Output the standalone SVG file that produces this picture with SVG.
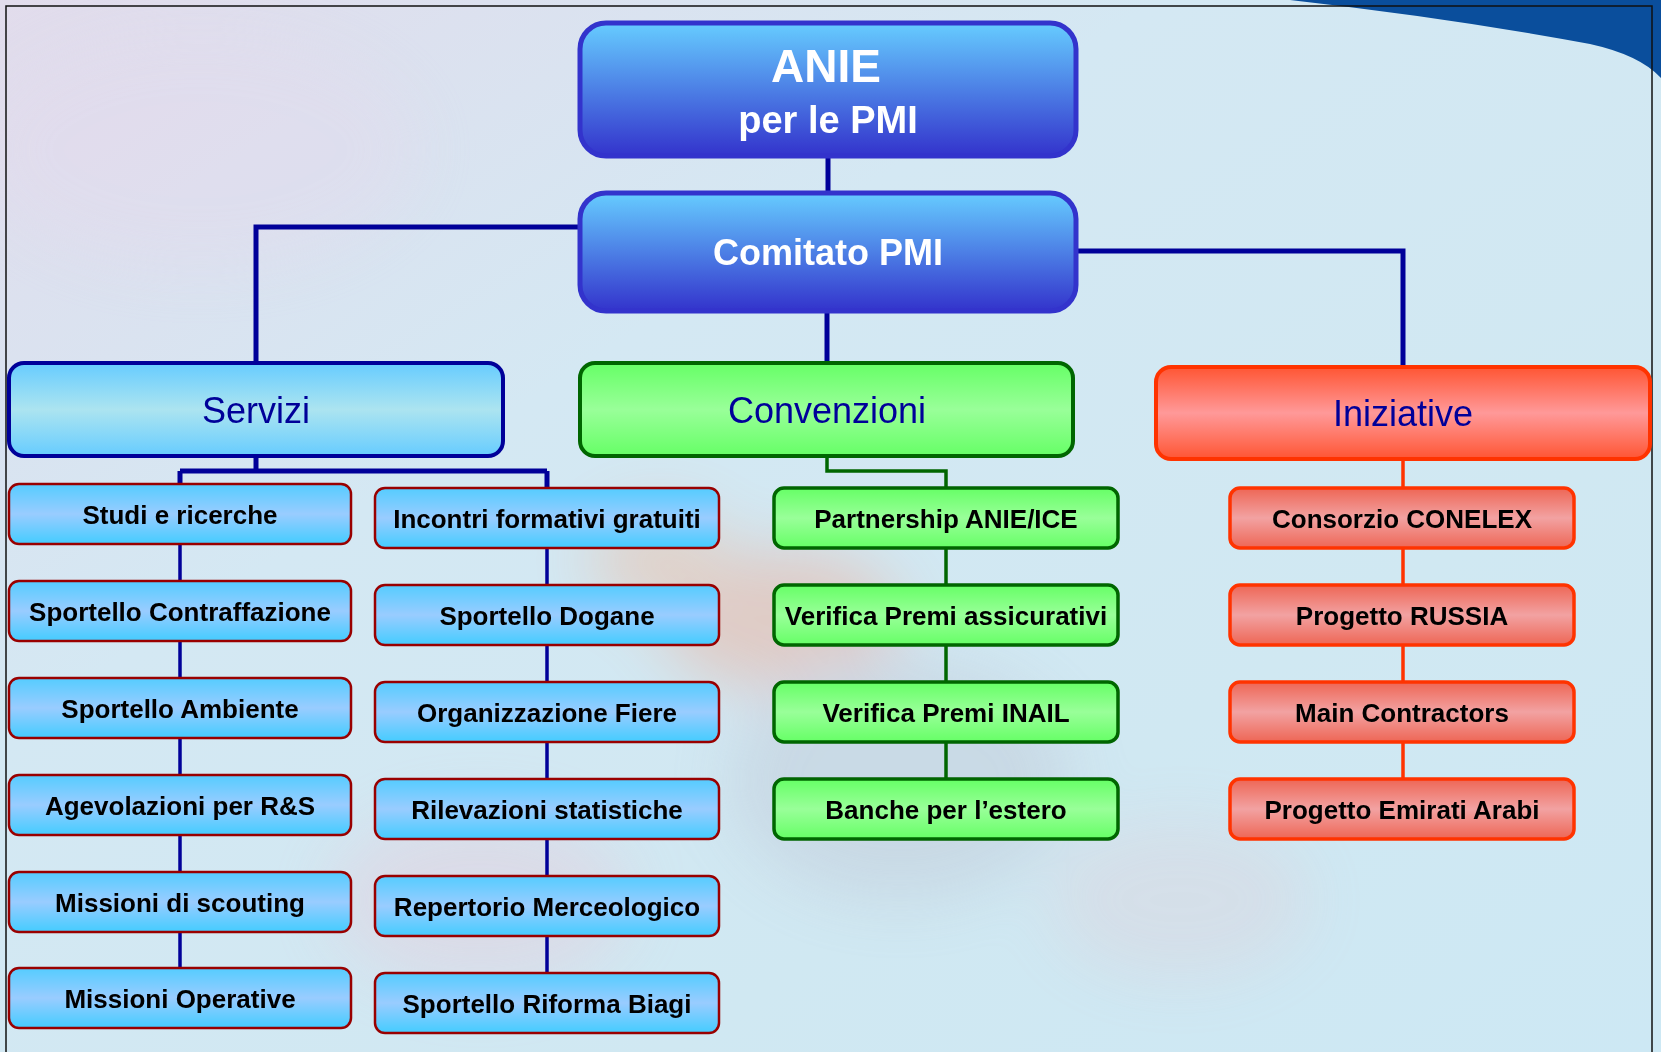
<svg xmlns="http://www.w3.org/2000/svg" width="1661" height="1052" viewBox="0 0 1661 1052">
<defs>
<linearGradient id="bg" x1="0" y1="0" x2="1" y2="1">
<stop offset="0" stop-color="#e2dcec"/>
<stop offset="0.35" stop-color="#d4e8f3"/>
<stop offset="0.7" stop-color="#d0e8f2"/>
<stop offset="1" stop-color="#cde8f4"/>
</linearGradient>
<filter id="blur" x="-50%" y="-50%" width="200%" height="200%"><feGaussianBlur stdDeviation="30"/></filter>
<linearGradient id="gTop" x1="0" y1="0" x2="0" y2="1">
<stop offset="0" stop-color="#66ccff"/>
<stop offset="1" stop-color="#3333cc"/>
</linearGradient>
<linearGradient id="gServ" x1="0" y1="0" x2="0" y2="1">
<stop offset="0" stop-color="#66ccff"/>
<stop offset="0.5" stop-color="#ace4f0"/>
<stop offset="1" stop-color="#66ccff"/>
</linearGradient>
<linearGradient id="gConv" x1="0" y1="0" x2="0" y2="1">
<stop offset="0" stop-color="#66ff66"/>
<stop offset="0.5" stop-color="#99ff99"/>
<stop offset="1" stop-color="#66ff66"/>
</linearGradient>
<linearGradient id="gIniz" x1="0" y1="0" x2="0" y2="1">
<stop offset="0" stop-color="#ff5533"/>
<stop offset="0.5" stop-color="#ff9999"/>
<stop offset="1" stop-color="#ff5533"/>
</linearGradient>
<linearGradient id="gBlueC" x1="0" y1="0" x2="0" y2="1">
<stop offset="0" stop-color="#55ccff"/>
<stop offset="0.5" stop-color="#99ccff"/>
<stop offset="1" stop-color="#44ccff"/>
</linearGradient>
<linearGradient id="gGreenC" x1="0" y1="0" x2="0" y2="1">
<stop offset="0" stop-color="#66ff66"/>
<stop offset="0.5" stop-color="#99ff99"/>
<stop offset="1" stop-color="#66ff66"/>
</linearGradient>
<linearGradient id="gRedC" x1="0" y1="0" x2="0" y2="1">
<stop offset="0" stop-color="#ee6655"/>
<stop offset="0.5" stop-color="#f2a2a2"/>
<stop offset="1" stop-color="#ee6655"/>
</linearGradient>
</defs>
<style>
text { font-family: "Liberation Sans", Arial, sans-serif; text-anchor: middle; }
.top { fill: url(#gTop); stroke: #3333cc; stroke-width: 5; }
.topt { fill: #ffffff; font-weight: bold; }
.pt { fill: #000099; font-size: 36px; }
.serv { fill: url(#gServ); stroke: #000099; stroke-width: 4; }
.conv { fill: url(#gConv); stroke: #006600; stroke-width: 4; }
.iniz { fill: url(#gIniz); stroke: #ff3300; stroke-width: 4; }
.bc { fill: url(#gBlueC); stroke: #990000; stroke-width: 2.5; }
.gc { fill: url(#gGreenC); stroke: #006600; stroke-width: 3.5; }
.rc { fill: url(#gRedC); stroke: #ff3300; stroke-width: 3.5; }
.ct { fill: #000000; font-size: 26px; font-weight: bold; }
.lnav { stroke: #000099; stroke-width: 5; fill: none; }
.lnav2 { stroke: #000099; stroke-width: 3.5; fill: none; }
.lgrn { stroke: #006600; stroke-width: 3.5; fill: none; }
.lred { stroke: #ff3300; stroke-width: 3.5; fill: none; }
</style>

<!-- background -->
<rect x="0" y="0" width="1661" height="1052" fill="url(#bg)"/>
<g filter="url(#blur)" opacity="0.3">
<ellipse cx="780" cy="620" rx="120" ry="70" fill="#ff8a60"/>
<ellipse cx="660" cy="560" rx="70" ry="50" fill="#ffa070"/>
<ellipse cx="900" cy="780" rx="170" ry="120" fill="#b8b8c8"/>
<ellipse cx="1180" cy="900" rx="130" ry="80" fill="#f0b8c0" opacity="0.6"/>
<ellipse cx="480" cy="900" rx="150" ry="90" fill="#f0c0d0"/>
<ellipse cx="200" cy="150" rx="220" ry="120" fill="#e6d8ec"/>
</g>
<path d="M1290,0 Q1450,18 1590,44 Q1640,55 1661,78 L1661,0 Z" fill="#0a4e9c"/>
<rect x="6" y="6" width="1646" height="1100" fill="none" stroke="#111111" stroke-width="1.5"/>

<!-- connectors -->
<g id="connectors">
<path class="lnav" d="M828,156 V193"/>
<path class="lnav" d="M580,227 H256 V363"/>
<path class="lnav" d="M1076,251 H1403 V367"/>
<path class="lnav" d="M827,311 V363"/>
<path class="lnav" d="M256,456 V471 M180,471 H547 M180,471 V484 M547,471 V488"/>
<path class="lnav2" d="M180,544 V968"/>
<path class="lnav2" d="M547,548 V973"/>
<path class="lgrn" d="M827,456 V471 H946 V488"/>
<path class="lgrn" d="M946,548 V779"/>
<path class="lred" d="M1403,459 V488"/>
<path class="lred" d="M1403,548 V779"/>
</g>

<!-- top nodes -->
<g id="anie">
<rect class="top" x="580" y="23" width="496" height="133" rx="26"/>
<text class="topt" x="826" y="82" font-size="46">ANIE</text>
<text class="topt" x="828" y="133" font-size="38">per le PMI</text>
</g>
<g id="comitato">
<rect class="top" x="580" y="193" width="496" height="118" rx="26"/>
<text class="topt" x="828" y="265" font-size="36">Comitato PMI</text>
</g>

<!-- category nodes -->
<g id="servizi">
<rect class="serv" x="9" y="363" width="494" height="93" rx="15"/>
<text class="pt" x="256" y="423">Servizi</text>
</g>
<g id="convenzioni">
<rect class="conv" x="580" y="363" width="493" height="93" rx="15"/>
<text class="pt" x="827" y="423">Convenzioni</text>
</g>
<g id="iniziative">
<rect class="iniz" x="1156" y="367" width="494" height="92" rx="15"/>
<text class="pt" x="1403" y="426">Iniziative</text>
</g>

<!-- Servizi left column -->
<g id="studi"><rect class="bc" x="9" y="484" width="342" height="60" rx="10"/><text class="ct" x="180" y="524">Studi e ricerche</text></g>
<g id="contraffazione"><rect class="bc" x="9" y="581" width="342" height="60" rx="10"/><text class="ct" x="180" y="621">Sportello Contraffazione</text></g>
<g id="ambiente"><rect class="bc" x="9" y="678" width="342" height="60" rx="10"/><text class="ct" x="180" y="718">Sportello Ambiente</text></g>
<g id="agevolazioni"><rect class="bc" x="9" y="775" width="342" height="60" rx="10"/><text class="ct" x="180" y="815">Agevolazioni per R&amp;S</text></g>
<g id="scouting"><rect class="bc" x="9" y="872" width="342" height="60" rx="10"/><text class="ct" x="180" y="912">Missioni di scouting</text></g>
<g id="operative"><rect class="bc" x="9" y="968" width="342" height="60" rx="10"/><text class="ct" x="180" y="1008">Missioni Operative</text></g>

<!-- Servizi right column -->
<g id="incontri"><rect class="bc" x="375" y="488" width="344" height="60" rx="10"/><text class="ct" x="547" y="528">Incontri formativi gratuiti</text></g>
<g id="dogane"><rect class="bc" x="375" y="585" width="344" height="60" rx="10"/><text class="ct" x="547" y="625">Sportello Dogane</text></g>
<g id="fiere"><rect class="bc" x="375" y="682" width="344" height="60" rx="10"/><text class="ct" x="547" y="722">Organizzazione Fiere</text></g>
<g id="rilevazioni"><rect class="bc" x="375" y="779" width="344" height="60" rx="10"/><text class="ct" x="547" y="819">Rilevazioni statistiche</text></g>
<g id="repertorio"><rect class="bc" x="375" y="876" width="344" height="60" rx="10"/><text class="ct" x="547" y="916">Repertorio Merceologico</text></g>
<g id="biagi"><rect class="bc" x="375" y="973" width="344" height="60" rx="10"/><text class="ct" x="547" y="1013">Sportello Riforma Biagi</text></g>

<!-- Convenzioni column -->
<g id="partnership"><rect class="gc" x="774" y="488" width="344" height="60" rx="10"/><text class="ct" x="946" y="528">Partnership ANIE/ICE</text></g>
<g id="assicurativi"><rect class="gc" x="774" y="585" width="344" height="60" rx="10"/><text class="ct" x="946" y="625">Verifica Premi assicurativi</text></g>
<g id="inail"><rect class="gc" x="774" y="682" width="344" height="60" rx="10"/><text class="ct" x="946" y="722">Verifica Premi INAIL</text></g>
<g id="banche"><rect class="gc" x="774" y="779" width="344" height="60" rx="10"/><text class="ct" x="946" y="819">Banche per l’estero</text></g>

<!-- Iniziative column -->
<g id="conelex"><rect class="rc" x="1230" y="488" width="344" height="60" rx="10"/><text class="ct" x="1402" y="528">Consorzio CONELEX</text></g>
<g id="russia"><rect class="rc" x="1230" y="585" width="344" height="60" rx="10"/><text class="ct" x="1402" y="625">Progetto RUSSIA</text></g>
<g id="contractors"><rect class="rc" x="1230" y="682" width="344" height="60" rx="10"/><text class="ct" x="1402" y="722">Main Contractors</text></g>
<g id="emirati"><rect class="rc" x="1230" y="779" width="344" height="60" rx="10"/><text class="ct" x="1402" y="819">Progetto Emirati Arabi</text></g>
</svg>
